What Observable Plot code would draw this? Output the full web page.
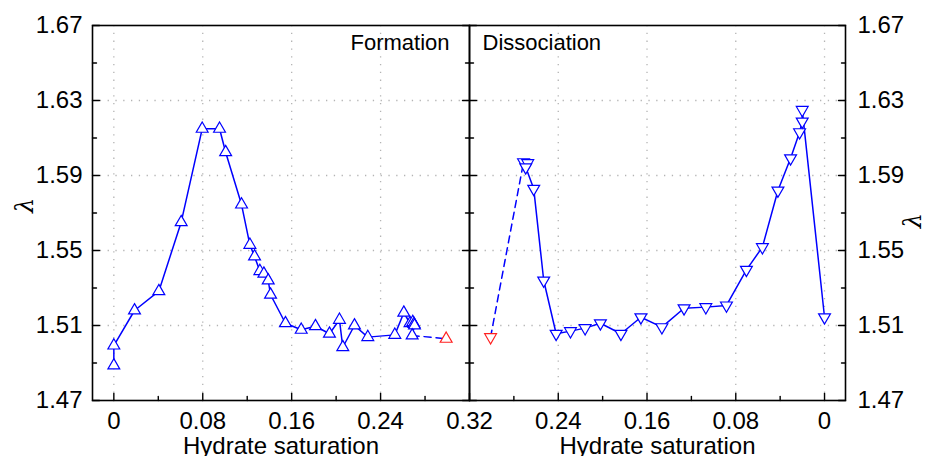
<!DOCTYPE html>
<html><head><meta charset="utf-8">
<script src="https://cdn.jsdelivr.net/npm/d3@7"></script>
<script src="https://cdn.jsdelivr.net/npm/@observablehq/plot@0.6"></script>
<style>
body{margin:0;background:#fff;}
#chart{position:relative;width:927px;height:456px;overflow:hidden;background:#fff;}
#chart svg{position:absolute;top:0;overflow:visible;}
</style></head><body><div id="chart"></div>
<script>
// ---- data ----
const formationSat = [0, 0, 0.0186, 0.0405, 0.0606, 0.0795, 0.0951, 0.1006, 0.1149, 0.1224, 0.1266, 0.1314, 0.135, 0.1389, 0.141, 0.1544, 0.1686, 0.1814, 0.194, 0.203, 0.206, 0.2165, 0.2285, 0.2528, 0.2609, 0.2665, 0.269, 0.270, 0.2705, 0.2684];
const formationLambda = [1.4887, 1.4993, 1.518, 1.5283, 1.5651, 1.6149, 1.6149, 1.6024, 1.5745, 1.553, 1.5468, 1.539, 1.5376, 1.534, 1.5264, 1.5112, 1.5077, 1.5096, 1.5056, 1.513, 1.4984, 1.51, 1.5038, 1.505, 1.5168, 1.5112, 1.5118, 1.5108, 1.51, 1.5047];
const formationEndSat = [0.299];
const formationEndLambda = [1.5029];

const dissocStartSat = [0.301];
const dissocStartLambda = [1.5038];
const dissocSat = [0.2713, 0.2675, 0.2693, 0.2621, 0.2531, 0.2419, 0.229, 0.2158, 0.202, 0.1835, 0.1655, 0.1466, 0.1266, 0.107, 0.0884, 0.0704, 0.056, 0.042, 0.0306, 0.0225, 0.0201, 0.0201, 0];
const dissocLambda = [1.5971, 1.5966, 1.5944, 1.5829, 1.534, 1.5056, 1.507, 1.5086, 1.5112, 1.5056, 1.5144, 1.5091, 1.5192, 1.5198, 1.5207, 1.5397, 1.5518, 1.582, 1.5992, 1.6131, 1.6188, 1.625, 1.5144];

const yMajor = [1.47, 1.51, 1.55, 1.59, 1.63, 1.67];
const yMinor = [1.49, 1.53, 1.57, 1.61, 1.65];
const yGrid = [1.51, 1.55, 1.59, 1.63];
const xMajorLeft = [0, 0.08, 0.16, 0.24, 0.32];
const xMinorLeft = [0.04, 0.12, 0.20, 0.28];
const xGridLeft = [0, 0.08, 0.16, 0.24];
const xMajorRight = [0.24, 0.16, 0.08, 0];
const xMinorRight = [0.28, 0.20, 0.12, 0.04];
const xGridRight = [0.24, 0.16, 0.08, 0];
const panelTitles = ["Formation", "Dissociation"];
const xLabel = "Hydrate saturation";
const yLabel = "λ";

// ---- build tables ----
const zip = (xs, ys) => xs.map((x, i) => ({s: x, l: ys[i]}));
const formation = zip(formationSat, formationLambda);
const formationEnd = zip(formationEndSat, formationEndLambda);
const formationDash = [formation[formation.length - 1], formationEnd[0]];
const dissoc = zip(dissocSat, dissocLambda);
const dissocStart = zip(dissocStartSat, dissocStartLambda);
const dissocDash = [dissocStart[0], dissoc[0]];

const BLUE = "#0000ff", RED = "#ff2020", GRID = "#b4b4b4";
const FONT = "'Liberation Sans', Arial, sans-serif";
const tickShape = {draw(ctx, l) { ctx.moveTo(0, 0); ctx.lineTo(0, -l); }};
const ticks = (data, ch, anchor, rot, len) =>
  Plot.vector(data, {[ch]: d => d, frameAnchor: anchor, rotate: rot, length: len, anchor: "start",
    shape: tickShape, stroke: "black", strokeWidth: 1.4});
const grid = (data, ch) => (ch === "x" ? Plot.ruleX : Plot.ruleY)(data,
  {stroke: GRID, strokeWidth: 1.3, strokeDasharray: "1.3,6.5"});
const fmt = d => String(d);

const common = {
  height: 456, marginTop: 25, marginBottom: 56,
  y: {domain: [1.47, 1.67]},
  style: {fontFamily: FONT, fontSize: "24px", color: "black", background: "transparent"}
};

const left = Plot.plot({
  ...common,
  width: 469, marginLeft: 92, marginRight: 0,
  x: {domain: [-0.0192, 0.32]},
  marks: [
    grid(xGridLeft, "x"), grid(yGrid, "y"),
    Plot.frame({stroke: "black", strokeWidth: 1.6}),
    ticks(yMajor, "y", "left", 90, 7), ticks(yMinor, "y", "left", 90, 4),
    ticks(yMajor, "y", "right", -90, 7), ticks(yMinor, "y", "right", -90, 4),
    ticks(xMajorLeft, "x", "bottom", 0, 7), ticks(xMinorLeft, "x", "bottom", 0, 4),
    Plot.axisY(yMajor, {anchor: "left", tickSize: 0, tickPadding: 10, tickFormat: d => d.toFixed(2), label: null, fontSize: 24}),
    Plot.axisX(xMajorLeft, {anchor: "bottom", tickSize: 0, tickPadding: 11, tickFormat: fmt, label: null, fontSize: 24}),
    Plot.line(formation, {x: "s", y: "l", stroke: BLUE, strokeWidth: 1.5}),
    Plot.line(formationDash, {x: "s", y: "l", stroke: BLUE, strokeWidth: 1.5, strokeDasharray: "7,5"}),
    Plot.dot(formation, {x: "s", y: "l", symbol: "triangle", r: 4.4, stroke: BLUE, fill: "white", strokeWidth: 1.2}),
    Plot.dot(formationEnd, {x: "s", y: "l", symbol: "triangle", r: 4.4, stroke: RED, fill: "white", strokeWidth: 1.2}),
    Plot.text([panelTitles[0]], {frameAnchor: "top-right", dx: -20, dy: 17, textAnchor: "end", lineAnchor: "middle", fontSize: 22}),
    Plot.text([xLabel], {frameAnchor: "bottom", dy: 46, lineAnchor: "middle", fontSize: 24}),
    Plot.text([yLabel], {frameAnchor: "left", dx: -67, rotate: -90, fontSize: 24, fontStyle: "italic", fontFamily: "'DejaVu Serif', serif"})
  ]
});

const right = Plot.plot({
  ...common,
  width: 458, marginLeft: 0, marginRight: 82,
  x: {domain: [0.32, -0.0189]},
  marks: [
    grid(xGridRight, "x"), grid(yGrid, "y"),
    Plot.frame({stroke: "black", strokeWidth: 1.6}),
    ticks(yMajor, "y", "left", 90, 7), ticks(yMinor, "y", "left", 90, 4),
    ticks(yMajor, "y", "right", -90, 7), ticks(yMinor, "y", "right", -90, 4),
    ticks(xMajorRight, "x", "bottom", 0, 7), ticks(xMinorRight, "x", "bottom", 0, 4),
    Plot.axisY(yMajor, {anchor: "right", tickSize: 0, tickPadding: 12, tickFormat: d => d.toFixed(2), label: null, fontSize: 24}),
    Plot.axisX(xMajorRight, {anchor: "bottom", tickSize: 0, tickPadding: 11, tickFormat: fmt, label: null, fontSize: 24}),
    Plot.line(dissoc, {x: "s", y: "l", stroke: BLUE, strokeWidth: 1.5}),
    Plot.line(dissocDash, {x: "s", y: "l", stroke: BLUE, strokeWidth: 1.5, strokeDasharray: "7,5"}),
    Plot.dot(dissoc, {x: "s", y: "l", symbol: "triangle", rotate: 180, r: 4.4, stroke: BLUE, fill: "white", strokeWidth: 1.2}),
    Plot.dot(dissocStart, {x: "s", y: "l", symbol: "triangle", rotate: 180, r: 4.4, stroke: RED, fill: "white", strokeWidth: 1.2}),
    Plot.text([panelTitles[1]], {frameAnchor: "top-left", dx: 13, dy: 17, textAnchor: "start", lineAnchor: "middle", fontSize: 22}),
    Plot.text([xLabel], {frameAnchor: "bottom", dy: 46, lineAnchor: "middle", fontSize: 24}),
    Plot.text([yLabel], {frameAnchor: "right", dx: 68, rotate: -90, fontSize: 24, fontStyle: "italic", fontFamily: "'DejaVu Serif', serif"})
  ]
});

left.style.left = "0px";
right.style.left = "469px";
const chart = document.getElementById("chart");
chart.append(left, right);
</script>
</body></html>
